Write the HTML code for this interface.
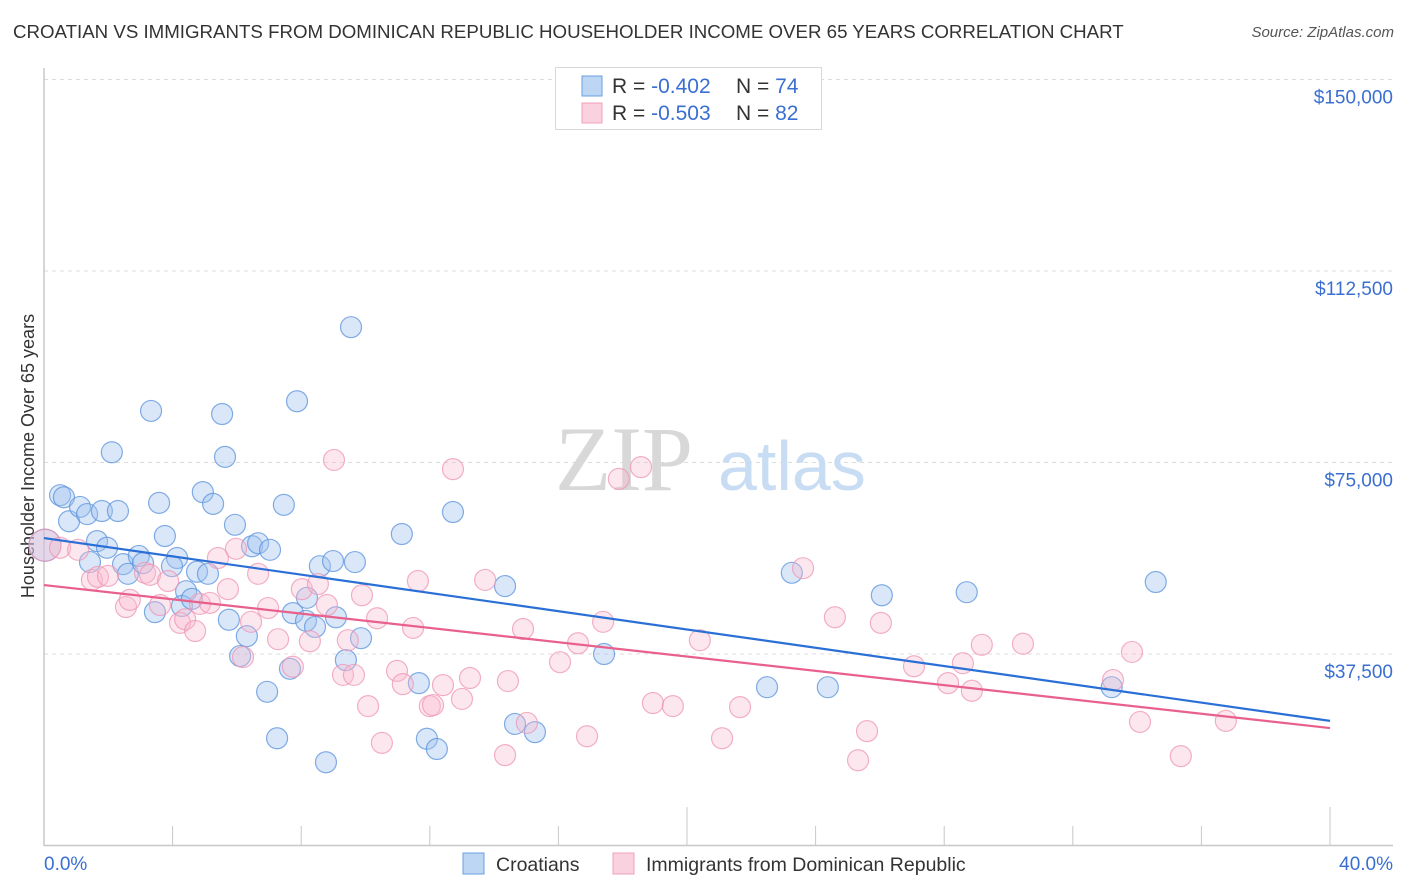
<!DOCTYPE html>
<html><head><meta charset="utf-8"><style>
body{margin:0;background:#fff;font-family:"Liberation Sans",sans-serif;}
#c{position:relative;width:1406px;height:892px;overflow:hidden;}
.t{position:absolute;white-space:nowrap;}
</style></head><body>
<div id="c">
<div class="t" style="left:13px;top:21px;font-size:18.7px;color:#333;">CROATIAN VS IMMIGRANTS FROM DOMINICAN REPUBLIC HOUSEHOLDER INCOME OVER 65 YEARS CORRELATION CHART</div>
<div class="t" style="right:12px;top:24px;font-size:15px;color:#555;font-style:italic;">Source: ZipAtlas.com</div>
<svg id="s" width="1406" height="892" style="position:absolute;left:0;top:0"></svg>
</div>
<script>
const xTicks=[0,40];
const yTicks=[37500,75000,112500,150000];
const yTickLabels=["$37,500","$75,000","$112,500","$150,000"];
const blueX=[0.03,0.50,0.62,0.78,1.12,1.34,1.80,2.30,1.65,1.96,2.11,1.43,2.46,2.61,2.95,3.08,3.33,3.58,3.76,4.14,3.98,3.45,4.42,4.29,4.60,4.76,5.10,4.94,5.26,5.54,5.63,5.94,5.75,6.10,6.31,6.47,6.66,7.03,6.94,7.25,7.46,7.65,7.74,7.87,8.18,8.15,8.43,8.58,8.99,9.08,9.39,9.67,9.86,9.55,11.13,11.66,11.91,12.22,12.72,14.34,14.65,15.27,17.42,22.49,23.26,24.38,26.06,28.70,33.21,34.58,8.77];
const blueY=[58.8,68.6,68.2,63.5,66.3,64.9,65.5,65.5,59.6,58.3,77.0,55.5,55.1,53.2,56.7,55.3,85.1,67.1,60.6,56.3,54.7,45.7,49.8,46.9,48.3,53.6,53.2,69.2,66.9,84.5,76.1,62.8,44.2,37.1,41.0,58.6,59.2,57.9,30.1,21.0,66.7,34.6,45.5,87.0,48.5,44.0,42.8,54.7,55.7,44.7,36.3,55.5,40.6,101.5,61.0,31.8,20.9,18.9,65.3,50.8,23.8,22.2,37.5,31.0,53.4,31.0,49.0,49.6,31.0,51.6,16.3];
const pinkX=[0.03,0.50,1.06,1.49,1.68,1.99,2.55,2.67,3.14,3.30,3.61,3.86,4.23,4.39,4.70,4.85,5.16,5.41,5.72,5.97,6.19,6.44,6.66,6.97,7.28,7.74,8.02,8.27,8.52,8.80,9.02,9.30,9.45,9.64,9.89,10.08,10.36,10.51,10.98,11.16,11.48,11.63,12.00,12.10,12.41,12.72,13.00,13.25,13.72,14.34,14.43,14.90,15.02,16.05,16.61,16.89,17.39,17.88,18.57,18.94,19.56,20.40,21.09,21.65,23.61,24.60,25.32,25.60,26.03,27.06,28.12,28.58,28.86,29.17,30.45,33.25,33.84,34.09,35.36,36.76];
const pinkY=[58.8,58.3,57.9,52.0,52.6,52.8,46.7,48.1,53.4,53.0,47.1,51.8,43.6,44.3,42.0,47.3,47.5,56.3,50.2,58.1,36.9,43.8,53.2,46.5,40.4,35.0,50.2,40.0,51.2,47.1,75.5,33.4,40.2,33.4,49.0,27.3,44.5,20.1,34.2,31.6,42.6,51.8,27.3,27.5,31.4,73.7,28.7,32.8,52.0,17.7,32.2,42.4,24.0,35.9,39.6,21.4,43.8,71.8,74.1,27.9,27.3,40.2,21.0,27.1,54.3,44.7,16.7,22.4,43.6,35.1,31.8,35.7,30.3,39.3,39.5,32.4,37.9,24.2,17.5,24.4];
const blueTrend=[60.2,24.4];
const pinkTrend=[51.0,23.0];

const NS="http://www.w3.org/2000/svg";
const s=document.getElementById('s');
const X0=44,X1=1330,Y0=845.5;
const xs=v=>X0+(v/40)*(X1-X0);
const ys=v=>Y0-(v/37500)*191.5;
function mk(t,a){const e=document.createElementNS(NS,t);for(const k in a)e.setAttribute(k,a[k]);s.appendChild(e);return e;}
yTicks.forEach((v,i)=>{
 const g=mk('line',{x1:44,x2:1393,y1:ys(v),y2:ys(v),stroke:'#dcdcdc','stroke-dasharray':'4,4'});
 
 
 const t=mk('text',{x:1393,y:ys(v)+24,'text-anchor':'end','font-size':19,fill:'#3a6fd1','font-family':'Liberation Sans'});
 t.textContent=yTickLabels[i];
 
 
});
let a=mk('line',{x1:44,x2:44,y1:68,y2:846,stroke:'#c8c8c8','stroke-width':1.5});


a=mk('line',{x1:44,x2:1393,y1:845.5,y2:845.5,stroke:'#c8c8c8','stroke-width':1.5});


for(let i=0;i<=10;i++){const x=xs(i*4);const tk=mk('line',{x1:x,x2:x,y1:(i%5==0)?807:826,y2:845,stroke:'#c8c8c8'});
 
 }
xTicks.forEach((v,i)=>{const t=mk('text',{x:i?1393:44,y:870,'text-anchor':i?'end':'start','font-size':19,fill:'#3a6fd1','font-family':'Liberation Sans'});t.textContent=v.toFixed(1)+'%';
 
 });
let yt=mk('text',{x:0,y:0,transform:'translate(34,456) rotate(-90)','text-anchor':'middle','font-size':18,fill:'#333','font-family':'Liberation Sans'});
yt.textContent='Householder Income Over 65 years';


let w=mk('text',{x:555,y:490,'font-size':92,fill:'#d8d8d8','font-family':'Liberation Serif'});w.textContent='ZIP';


w=mk('text',{x:718,y:490,'font-size':70,fill:'#c8dcf3','font-family':'Liberation Sans'});w.textContent='atlas';


function pts(X,Y,fill,stroke,name){X.forEach((x,i)=>{const big=i==0;
 const c=mk('circle',{cx:xs(x),cy:ys(Y[i]*1000),r:big?16:10.5,fill:fill,stroke:stroke,'stroke-width':1.2});
 
 });}
pts(blueX,blueY,'rgba(160,196,240,0.4)','rgba(90,145,220,0.75)','croatians-point');
pts(pinkX,pinkY,'rgba(248,185,205,0.35)','rgba(238,150,180,0.75)','dominican-point');
let l=mk('line',{x1:xs(0),x2:xs(40),y1:ys(blueTrend[0]*1000),y2:ys(blueTrend[1]*1000),stroke:'#2a6fd6','stroke-width':2.2});


l=mk('line',{x1:xs(0),x2:xs(40),y1:ys(pinkTrend[0]*1000),y2:ys(pinkTrend[1]*1000),stroke:'#e8608c','stroke-width':2.2});


let r=mk('rect',{x:555.5,y:67.5,width:266,height:62,fill:'#fff',stroke:'#d8d8d8'});


[['rgba(160,196,240,0.7)','#6a9fe0','-0.402','74',86],['rgba(248,190,208,0.7)','#f0a0b8','-0.503','82',113]].forEach(d=>{
 const b=mk('rect',{x:582,y:d[4]-10,width:20,height:20,fill:d[0],stroke:d[1]});
 
 
 const t=mk('text',{x:612,y:d[4]+7,'font-size':21,fill:'#333','font-family':'Liberation Sans'});
 t.innerHTML='R = <tspan fill="#3a6fd1">'+d[2]+'</tspan><tspan x="736">N = </tspan><tspan fill="#3a6fd1">'+d[3]+'</tspan>';
 
 
});
[[463,'rgba(160,196,240,0.7)','#6a9fe0','Croatians'],[613,'rgba(248,190,208,0.7)','#f0a0b8','Immigrants from Dominican Republic']].forEach(d=>{
 const b=mk('rect',{x:d[0],y:853,width:21,height:21,fill:d[1],stroke:d[2]});
 
 
 const t=mk('text',{x:d[0]+33,y:871,'font-size':19.5,fill:'#333','font-family':'Liberation Sans'});t.textContent=d[3];
 
 
});
</script>
</body></html>
